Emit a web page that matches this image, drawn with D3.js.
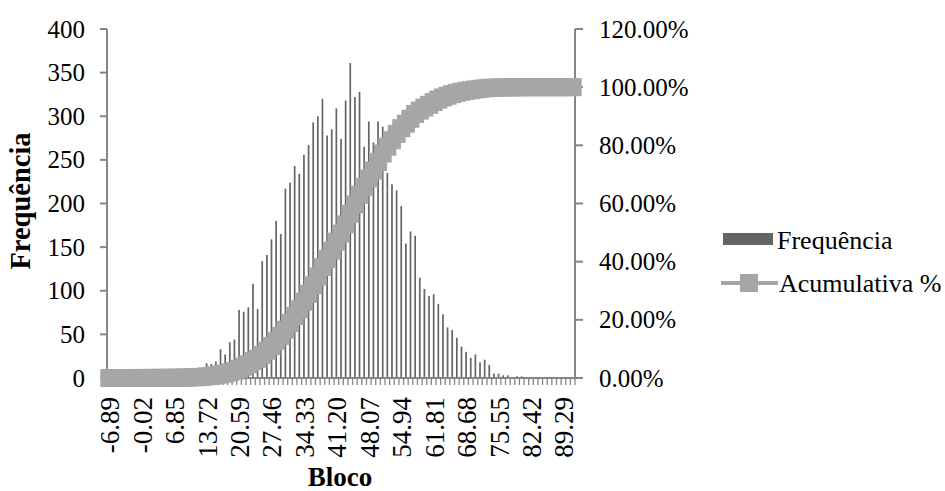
<!DOCTYPE html>
<html>
<head>
<meta charset="utf-8">
<script src="https://cdn.jsdelivr.net/npm/d3@7"></script>
<style>
  html, body { margin: 0; padding: 0; background: #fff; }
  svg { display: block; }
  text { font-family: "Liberation Serif", "Times New Roman", serif; fill: #000; }
</style>
</head>
<body>
<svg id="chart" width="945" height="491"></svg>
<script>
// Bin labels ("Bloco"): start -6.89, step ~0.981; last bin is "Mais"
const binStart = -6.89;
const binStep = 0.98143;
const binCount = 101;
const categories = d3.range(binCount).map(i => i === binCount - 1 ? "Mais" : (binStart + i * binStep).toFixed(2));

// Frequência per bin
const frequencies = [
  0, 0, 0, 0, 0, 1, 0, 0, 1, 1,
  0, 1, 1, 1, 2, 2, 3, 4, 5, 7,
  9, 17, 16, 19, 33, 27, 41, 44, 78, 76,
  81, 108, 79, 134, 141, 159, 180, 165, 217, 224,
  243, 234, 256, 267, 293, 300, 320, 278, 285, 309,
  274, 318, 361, 322, 328, 265, 294, 270, 294, 288,
  235, 222, 215, 197, 154, 168, 163, 115, 102, 94,
  96, 85, 73, 58, 55, 46, 36, 30, 23, 27,
  18, 21, 15, 5, 5, 3, 3, 1, 2, 2,
  0, 1, 0, 0, 0, 0, 0, 0, 0, 0,
  0
];

// Acumulativa % per bin (percent)
const cumulativePct = [
  0, 0, 0, 0, 0, 0.01, 0.01, 0.01, 0.02, 0.03,
  0.03, 0.04, 0.05, 0.06, 0.08, 0.10, 0.13, 0.17, 0.22, 0.29,
  0.38, 0.55, 0.71, 0.90, 1.24, 1.51, 1.92, 2.36, 3.15, 3.91,
  4.73, 5.81, 6.61, 7.95, 9.37, 10.97, 12.78, 14.44, 16.62, 18.87,
  21.32, 23.67, 26.24, 28.93, 31.87, 34.89, 38.11, 40.90, 43.77, 46.87,
  49.63, 52.82, 56.45, 59.69, 62.99, 65.65, 68.61, 71.33, 74.28, 77.18,
  79.54, 81.77, 83.93, 85.91, 87.46, 89.15, 90.79, 91.95, 92.97, 93.92,
  94.88, 95.74, 96.47, 97.05, 97.61, 98.07, 98.43, 98.73, 98.96, 99.23,
  99.42, 99.63, 99.78, 99.83, 99.88, 99.91, 99.94, 99.95, 99.97, 99.99,
  99.99, 100, 100, 100, 100, 100, 100, 100, 100, 100,
  100
];

const leftTicks = [0, 50, 100, 150, 200, 250, 300, 350, 400];
const rightTicks = [0, 20, 40, 60, 80, 100, 120];
const labelEvery = 7;

const svg = d3.select("#chart");
const plot = { left: 107, right: 575, top: 29, bottom: 378 };
const axisColor = "#868686";
const barColor = "#646464";
const lineColor = "#a6a6a6";

const x = d3.scaleBand().domain(categories).range([plot.left, plot.right]).padding(0);
const yL = d3.scaleLinear().domain([0, 400]).range([plot.bottom, plot.top]);
const yR = d3.scaleLinear().domain([0, 120]).range([plot.bottom, plot.top]);

// bars
const bw = 1.7;
svg.append("g").selectAll("rect").data(frequencies).join("rect")
  .attr("x", (d, i) => x(categories[i]) + x.bandwidth() / 2 - bw / 2)
  .attr("y", d => yL(d))
  .attr("width", bw)
  .attr("height", d => yL(0) - yL(d))
  .attr("fill", barColor);

// axes
const gAxes = svg.append("g");
gAxes.append("line").attr("x1", plot.left).attr("x2", plot.right)
  .attr("y1", plot.bottom).attr("y2", plot.bottom)
  .attr("stroke", axisColor).attr("stroke-width", 2);
const boundaries = d3.range(binCount + 1).map(i => plot.left + i * x.step());
gAxes.append("g").selectAll("line").data(boundaries).join("line")
  .attr("x1", d => d).attr("x2", d => d)
  .attr("y1", plot.bottom).attr("y2", plot.bottom + 7)
  .attr("stroke", axisColor).attr("stroke-width", 1.3);

// left axis
gAxes.append("line").attr("x1", plot.left).attr("x2", plot.left)
  .attr("y1", plot.top).attr("y2", plot.bottom)
  .attr("stroke", axisColor).attr("stroke-width", 2);
gAxes.append("g").selectAll("line").data(leftTicks).join("line")
  .attr("x1", plot.left - 7).attr("x2", plot.left)
  .attr("y1", d => yL(d)).attr("y2", d => yL(d))
  .attr("stroke", axisColor).attr("stroke-width", 2);
gAxes.append("g").selectAll("text").data(leftTicks).join("text")
  .attr("x", 85).attr("y", d => yL(d))
  .attr("text-anchor", "end").attr("dominant-baseline", "central")
  .style("font-size", "25px")
  .text(d => d);

// right axis
gAxes.append("line").attr("x1", plot.right).attr("x2", plot.right)
  .attr("y1", plot.top).attr("y2", plot.bottom)
  .attr("stroke", axisColor).attr("stroke-width", 2);
gAxes.append("g").selectAll("line").data(rightTicks).join("line")
  .attr("x1", plot.right).attr("x2", plot.right + 8)
  .attr("y1", d => yR(d)).attr("y2", d => yR(d))
  .attr("stroke", axisColor).attr("stroke-width", 2);
gAxes.append("g").selectAll("text").data(rightTicks).join("text")
  .attr("x", 599).attr("y", d => yR(d))
  .attr("text-anchor", "start").attr("dominant-baseline", "central")
  .style("font-size", "25px")
  .text(d => d.toFixed(2) + "%");

// x labels rotated
gAxes.append("g").selectAll("text")
  .data(categories.filter((c, i) => i % labelEvery === 0 && c !== "Mais"))
  .join("text")
  .attr("transform", d => `translate(${x(d) + x.bandwidth() / 2 + 1},397) rotate(-90)`)
  .attr("text-anchor", "end").attr("dominant-baseline", "central")
  .style("font-size", "27px")
  .text(d => d);

// cumulative line with square markers
const line = d3.line()
  .x((d, i) => x(categories[i]) + x.bandwidth() / 2)
  .y(d => yR(d));
svg.append("path").datum(cumulativePct)
  .attr("d", line).attr("fill", "none")
  .attr("stroke", lineColor).attr("stroke-width", 4);
const ms = 18;
svg.append("g").selectAll("rect").data(cumulativePct).join("rect")
  .attr("x", (d, i) => x(categories[i]) + x.bandwidth() / 2 - ms / 2)
  .attr("y", d => yR(d) - ms / 2)
  .attr("width", ms).attr("height", ms)
  .attr("fill", lineColor);

// axis titles
svg.append("text")
  .attr("transform", "translate(20,201) rotate(-90)")
  .attr("text-anchor", "middle").attr("dominant-baseline", "central")
  .style("font-size", "28.5px").style("font-weight", "bold")
  .text("Frequência");
svg.append("text")
  .attr("x", 340).attr("y", 486)
  .attr("text-anchor", "middle")
  .style("font-size", "27px").style("font-weight", "bold")
  .text("Bloco");

// legend
const lg = svg.append("g");
lg.append("rect").attr("x", 723).attr("y", 233).attr("width", 50).attr("height", 12).attr("fill", barColor);
lg.append("text").attr("x", 777).attr("y", 240).attr("dominant-baseline", "central")
  .style("font-size", "26px").text("Frequência");
lg.append("line").attr("x1", 721).attr("x2", 778).attr("y1", 283).attr("y2", 283)
  .attr("stroke", lineColor).attr("stroke-width", 4);
lg.append("rect").attr("x", 749 - ms / 2).attr("y", 283 - ms / 2).attr("width", ms).attr("height", ms).attr("fill", lineColor);
lg.append("text").attr("x", 779).attr("y", 283).attr("dominant-baseline", "central")
  .style("font-size", "26px").text("Acumulativa %");
</script>
</body>
</html>
